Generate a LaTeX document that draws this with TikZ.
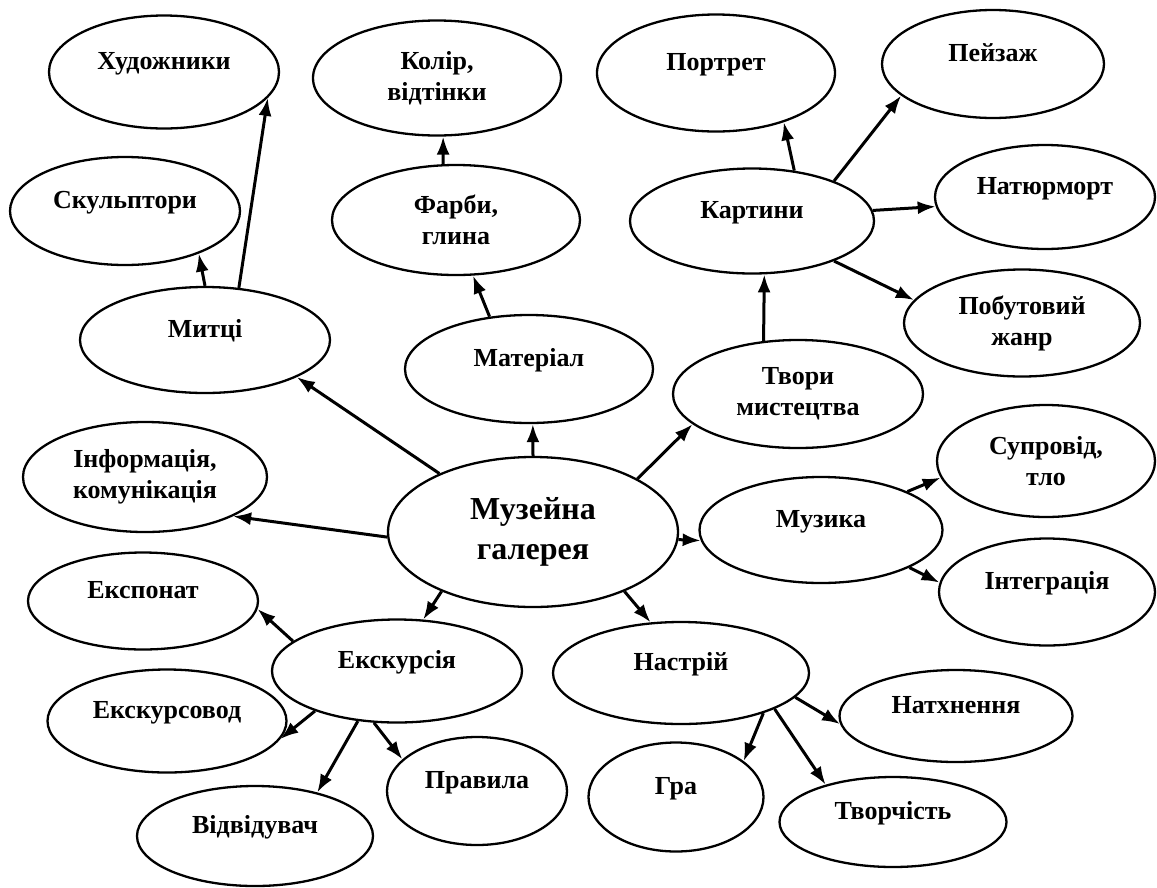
\documentclass[tikz,border=0pt]{standalone}
\usepackage{fontspec}
\setmainfont{Liberation Serif}
\usetikzlibrary{shapes.geometric,arrows.meta}

\begin{document}
\begin{tikzpicture}[x=1pt,y=-1pt,>={Latex[length=18pt,width=13pt]},
        bub/.style={draw,ellipse,line width=2.3pt,inner sep=0pt,font=\bfseries\fontsize{26}{31}\selectfont,align=center},
        one/.style={text height=18pt,text depth=24pt},
        link/.style={->,line width=3pt}]
        \useasboundingbox (0,0) rectangle (1157,887);
        \node[bub,one,minimum width=230pt,minimum height=113pt] (khud) at (164,72) {Художники};
        \node[bub,one,minimum width=230pt,minimum height=108pt] (skulp) at (125,211) {Скульптори};
        \node[bub,minimum width=248pt,minimum height=115pt] (kolir) at (437,78) {Колір,\\відтінки};
        \node[bub,minimum width=248pt,minimum height=110pt] (farby) at (456,220) {Фарби,\\глина};
        \node[bub,one,minimum width=238pt,minimum height=117pt] (portret) at (716,73) {Портрет};
        \node[bub,one,minimum width=222pt,minimum height=108pt] (peyzazh) at (993,64) {Пейзаж};
        \node[bub,one,minimum width=244pt,minimum height=105pt] (kartyny) at (752,221) {Картини};
        \node[bub,one,minimum width=220pt,minimum height=104pt] (natyurm) at (1045,197) {Натюрморт};
        \node[bub,minimum width=236pt,minimum height=107pt] (pobut) at (1022,323) {Побутовий\\жанр};
        \node[bub,one,minimum width=250pt,minimum height=106pt] (mytci) at (205,340) {Митці};
        \node[bub,one,minimum width=248pt,minimum height=108pt] (material) at (529,369) {Матеріал};
        \node[bub,minimum width=250pt,minimum height=108pt] (tvory) at (798,394) {Твори\\мистецтва};
        \node[bub,minimum width=244pt,minimum height=110pt] (info) at (145,477) {Інформація,\\комунікація};
        \node[bub,minimum width=290pt,minimum height=150pt,font=\bfseries\fontsize{32}{40}\selectfont] (centre) at (533,532) {Музейна\\галерея};
        \node[bub,minimum width=218pt,minimum height=112pt] (suprovid) at (1046,461) {Супровід,\\тло};
        \node[bub,one,minimum width=243pt,minimum height=106pt] (muzyka) at (821,530) {Музика};
        \node[bub,one,minimum width=216pt,minimum height=107pt] (integr) at (1047,592) {Інтеграція};
        \node[bub,one,minimum width=230pt,minimum height=97pt] (eksponat) at (143,601) {Експонат};
        \node[bub,one,minimum width=250pt,minimum height=103pt] (ekskursiya) at (397,671) {Екскурсія};
        \node[bub,one,minimum width=256pt,minimum height=102pt] (nastriy) at (681,673) {Настрій};
        \node[bub,one,minimum width=239pt,minimum height=103pt] (ekskursovod) at (167,721) {Екскурсовод};
        \node[bub,one,minimum width=233pt,minimum height=92pt] (natkhn) at (956,716) {Натхнення};
        \node[bub,one,minimum width=180pt,minimum height=108pt] (pravyla) at (477,791) {Правила};
        \node[bub,one,minimum width=175pt,minimum height=109pt] (gra) at (676,797) {Гра};
        \node[bub,one,minimum width=236pt,minimum height=100pt] (vidviduvach) at (255,836) {Відвідувач};
        \node[bub,one,minimum width=227pt,minimum height=90pt] (tvorchist) at (893,822) {Творчість};
        \draw[link] (mytci.90) -- (skulp.-30);
        \draw[link] (mytci.57) -- (khud.-14);
        \draw[link] (farby.103) -- (kolir.-84);
        \draw[link] (material.127) -- (farby.-73);
        \draw[link] (centre.90) -- (material.-86);
        \draw[link] (centre.148) -- (mytci.-22);
        \draw[link] (centre.182) -- (info.-24);
        \draw[link] (centre.27) -- (tvory.196);
        \draw[link] (centre.-3) -- (muzyka.185);
        \draw[link] (tvory.123) -- (kartyny.-77);
        \draw[link] (kartyny.50) -- (portret.-36);
        \draw[link] (kartyny.26) -- (peyzazh.199);
        \draw[link] (kartyny.5) -- (natyurm.185);
        \draw[link] (kartyny.-26) -- (pobut.168);
        \draw[link] (muzyka.24) -- (suprovid.189);
        \draw[link] (muzyka.-23) -- (integr.175);
        \draw[link] (centre.213) -- (ekskursiya.63);
        \draw[link] (centre.-33) -- (nastriy.121);
        \draw[link] (ekskursiya.164) -- (eksponat.-4);
        \draw[link] (ekskursiya.206) -- (ekskursovod.-9);
        \draw[link] (ekskursiya.232) -- (vidviduvach.35);
        \draw[link] (ekskursiya.246) -- (pravyla.157);
        \draw[link] (nastriy.-26) -- (gra.28);
        \draw[link] (nastriy.-21) -- (tvorchist.151);
        \draw[link] (nastriy.-12) -- (natkhn.184);
      \end{tikzpicture}
\end{document}
